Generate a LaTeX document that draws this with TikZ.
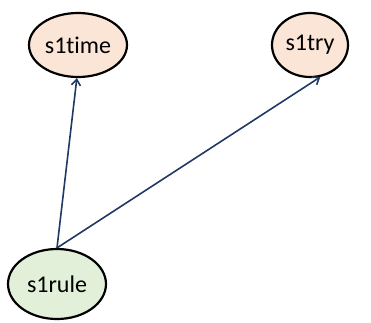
\documentclass[tikz,border=0pt]{standalone}
\usepackage{fontspec}
\setmainfont[Ligatures=NoCommon]{Carlito}
\usepackage{tikz}
\usetikzlibrary{shapes.geometric, arrows.meta, positioning}
\definecolor{peach}{HTML}{FBE5D6}
\definecolor{mint}{HTML}{E2F0D9}
\definecolor{navy}{HTML}{1F3864}
\tikzset{
  % variable ellipses
  var/.style={ellipse, draw=black, line width=2.2pt, fill=#1,
              inner sep=0pt, font=\fontsize{24}{28}\selectfont},
  % directed edges
  edge/.style={-{Straight Barb[length=6pt, width=9pt]}, draw=navy, line width=1.6pt},
}

\begin{document}
\begin{tikzpicture}[x=1pt, y=-1pt]
\useasboundingbox (0,0) rectangle (371,322);

% ── Top row: outcome variables ───────────────────────────────────────────────
\node[var=peach, minimum width=98pt, minimum height=64pt] (time) at (78, 45)  {s1time};
\node[var=peach, minimum width=76pt, minimum height=64pt] (try)  at (310, 45) {s1try};

% ── Bottom: rule variable ────────────────────────────────────────────────────
\node[var=mint,  minimum width=98pt, minimum height=70pt] (rule) at (57, 284) {s1rule};

% ── Edges ────────────────────────────────────────────────────────────────────
\draw[edge] (rule.north) -- (time.-92);
\draw[edge] (rule.north) -- (try.-72);

\end{tikzpicture}
\end{document}
